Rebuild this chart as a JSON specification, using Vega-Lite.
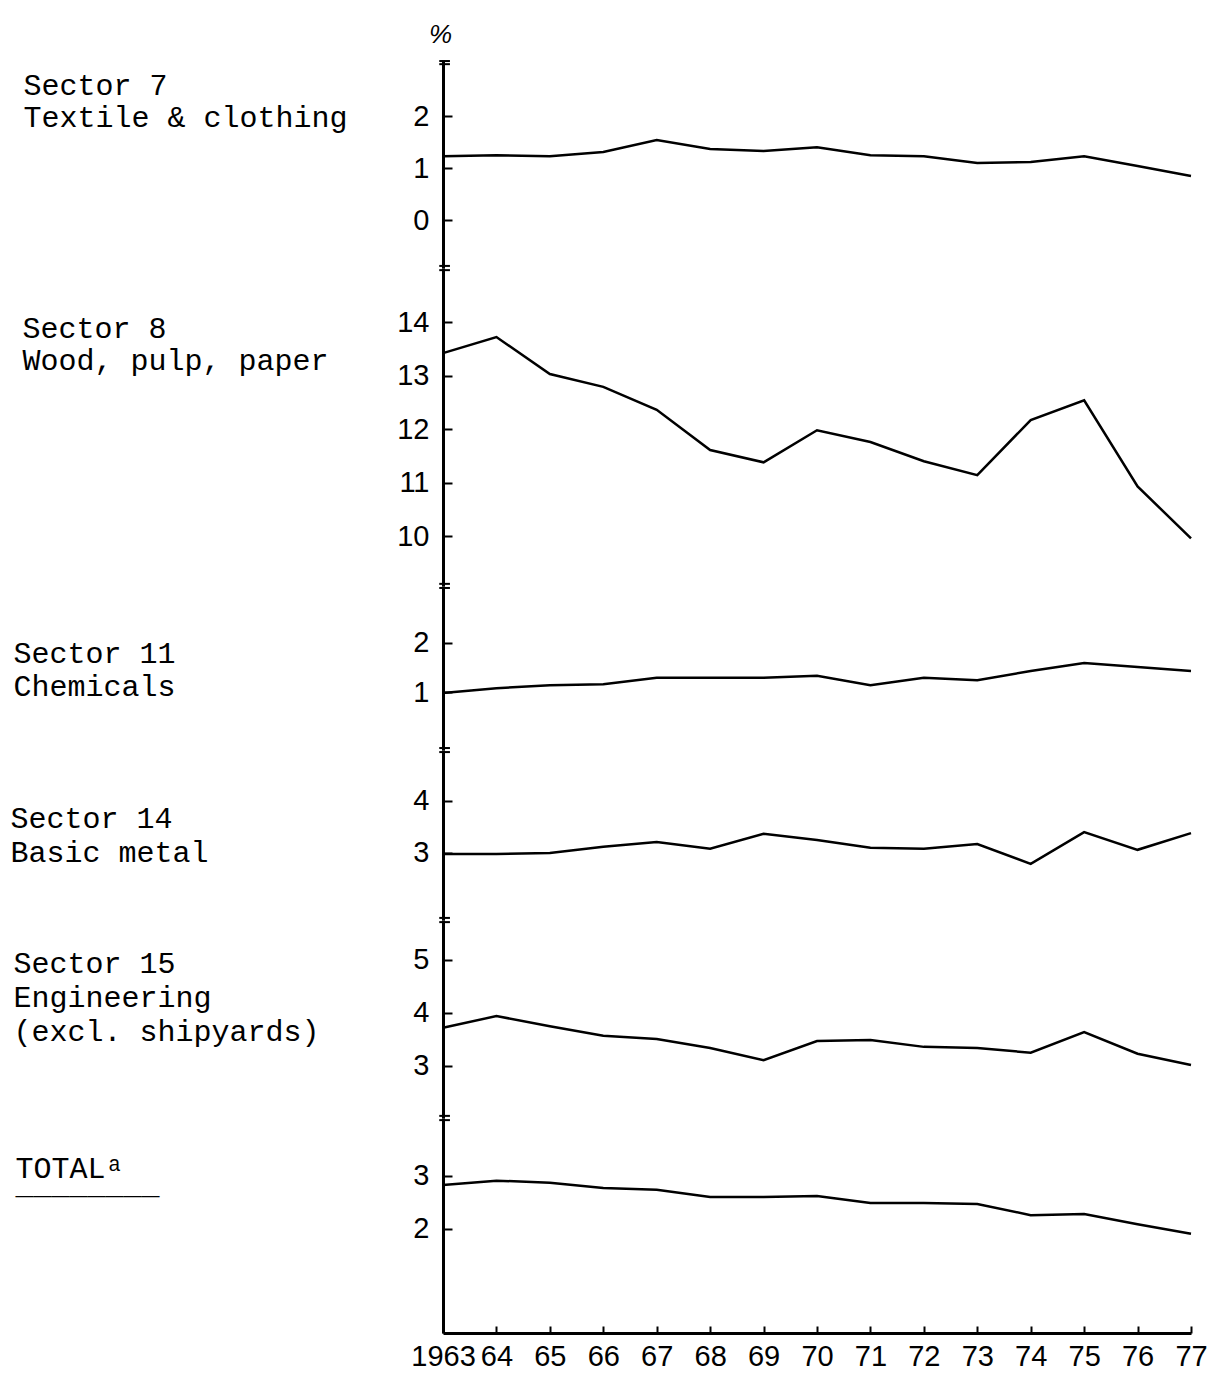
{
  "$schema": "https://vega.github.io/schema/vega-lite/v6.json",
  "background": "white",
  "padding": {"left": 10, "top": 22, "right": 10, "bottom": 10},
  "spacing": 0,
  "bounds": "flush",
  "datasets": {
    "s7": [{"year":1963,"value":1.23},{"year":1964,"value":1.25},{"year":1965,"value":1.23},{"year":1966,"value":1.31},{"year":1967,"value":1.54},{"year":1968,"value":1.37},{"year":1969,"value":1.33},{"year":1970,"value":1.40},{"year":1971,"value":1.25},{"year":1972,"value":1.23},{"year":1973,"value":1.10},{"year":1974,"value":1.12},{"year":1975,"value":1.23},{"year":1976,"value":1.04},{"year":1977,"value":0.85}],
    "s8": [{"year":1963,"value":13.42},{"year":1964,"value":13.72},{"year":1965,"value":13.03},{"year":1966,"value":12.79},{"year":1967,"value":12.36},{"year":1968,"value":11.61},{"year":1969,"value":11.38},{"year":1970,"value":11.98},{"year":1971,"value":11.76},{"year":1972,"value":11.40},{"year":1973,"value":11.14},{"year":1974,"value":12.17},{"year":1975,"value":12.54},{"year":1976,"value":10.93},{"year":1977,"value":9.96}],
    "s11": [{"year":1963,"value":0.98},{"year":1964,"value":1.08},{"year":1965,"value":1.14},{"year":1966,"value":1.16},{"year":1967,"value":1.29},{"year":1968,"value":1.29},{"year":1969,"value":1.29},{"year":1970,"value":1.33},{"year":1971,"value":1.14},{"year":1972,"value":1.29},{"year":1973,"value":1.24},{"year":1974,"value":1.43},{"year":1975,"value":1.59},{"year":1976,"value":1.51},{"year":1977,"value":1.43}],
    "s14": [{"year":1963,"value":2.98},{"year":1964,"value":2.98},{"year":1965,"value":3.0},{"year":1966,"value":3.12},{"year":1967,"value":3.21},{"year":1968,"value":3.08},{"year":1969,"value":3.37},{"year":1970,"value":3.25},{"year":1971,"value":3.10},{"year":1972,"value":3.08},{"year":1973,"value":3.17},{"year":1974,"value":2.79},{"year":1975,"value":3.40},{"year":1976,"value":3.06},{"year":1977,"value":3.38}],
    "s15": [{"year":1963,"value":3.72},{"year":1964,"value":3.94},{"year":1965,"value":3.75},{"year":1966,"value":3.57},{"year":1967,"value":3.51},{"year":1968,"value":3.34},{"year":1969,"value":3.11},{"year":1970,"value":3.47},{"year":1971,"value":3.49},{"year":1972,"value":3.36},{"year":1973,"value":3.34},{"year":1974,"value":3.25},{"year":1975,"value":3.64},{"year":1976,"value":3.23},{"year":1977,"value":3.02}],
    "tot": [{"year":1963,"value":2.83},{"year":1964,"value":2.91},{"year":1965,"value":2.87},{"year":1966,"value":2.77},{"year":1967,"value":2.74},{"year":1968,"value":2.60},{"year":1969,"value":2.60},{"year":1970,"value":2.62},{"year":1971,"value":2.49},{"year":1972,"value":2.49},{"year":1973,"value":2.47},{"year":1974,"value":2.26},{"year":1975,"value":2.28},{"year":1976,"value":2.09},{"year":1977,"value":1.91}],
    "one": [{}]
  },
  "vconcat": [
    {
      "width": 748, "height": 208,
      "title": {"text": "%", "anchor": "start", "frame": "group", "dx": -14, "offset": 12, "font": "Liberation Sans", "fontSize": 26, "fontStyle": "italic", "fontWeight": "normal", "color": "black"},
      "layer": [
        {
          "data": {"name": "s7"},
          "mark": {"type": "line", "color": "black", "strokeWidth": 2.5},
          "encoding": {
            "x": {"field": "year", "type": "quantitative", "scale": {"domain": [1963, 1977], "nice": false, "zero": false}, "axis": null},
            "y": {"field": "value", "type": "quantitative", "scale": {"domain": [-0.92, 3.08], "nice": false, "zero": false},
                  "axis": {"values": [0, 1, 2], "format": "d", "title": ["Sector 7", "Textile & clothing"], "titleX": -420, "titleY": 34, "titleLineHeight": 32}}
          }
        },
        {"data": {"name": "one"}, "mark": {"type": "rule", "color": "black", "strokeWidth": 2, "clip": false},
         "encoding": {"x": {"datum": 1962.93, "type": "quantitative", "axis": null}, "x2": {"datum": 1963.13}, "y": {"datum": 3.06, "type": "quantitative"}}},
        {"data": {"name": "one"}, "mark": {"type": "rule", "color": "black", "strokeWidth": 2, "clip": false},
         "encoding": {"x": {"datum": 1962.93, "type": "quantitative", "axis": null}, "x2": {"datum": 1963.13}, "y": {"datum": 3.0, "type": "quantitative"}}},
        {"data": {"name": "one"}, "mark": {"type": "rule", "color": "black", "strokeWidth": 2, "clip": false},
         "encoding": {"x": {"datum": 1962.93, "type": "quantitative", "axis": null}, "x2": {"datum": 1963.13}, "y": {"datum": -0.88, "type": "quantitative"}}}
      ]
    },
    {
      "width": 748, "height": 318,
      "layer": [
        {
          "data": {"name": "s8"},
          "mark": {"type": "line", "color": "black", "strokeWidth": 2.5},
          "encoding": {
            "x": {"field": "year", "type": "quantitative", "scale": {"domain": [1963, 1977], "nice": false, "zero": false}, "axis": null},
            "y": {"field": "value", "type": "quantitative", "scale": {"domain": [9.07, 15.01], "nice": false, "zero": false},
                  "axis": {"values": [10, 11, 12, 13, 14], "format": "d", "title": ["Sector 8", "Wood, pulp, paper"], "titleX": -421, "titleY": 69, "titleLineHeight": 32}}
          }
        },
        {"data": {"name": "one"}, "mark": {"type": "rule", "color": "black", "strokeWidth": 2, "clip": false},
         "encoding": {"x": {"datum": 1962.93, "type": "quantitative", "axis": null}, "x2": {"datum": 1963.13}, "y": {"datum": 14.97, "type": "quantitative"}}},
        {"data": {"name": "one"}, "mark": {"type": "rule", "color": "black", "strokeWidth": 2, "clip": false},
         "encoding": {"x": {"datum": 1962.93, "type": "quantitative", "axis": null}, "x2": {"datum": 1963.13}, "y": {"datum": 9.11, "type": "quantitative"}}}
      ]
    },
    {
      "width": 748, "height": 164,
      "layer": [
        {
          "data": {"name": "s11"},
          "mark": {"type": "line", "color": "black", "strokeWidth": 2.5},
          "encoding": {
            "x": {"field": "year", "type": "quantitative", "scale": {"domain": [1963, 1977], "nice": false, "zero": false}, "axis": null},
            "y": {"field": "value", "type": "quantitative", "scale": {"domain": [-0.18, 3.16], "nice": false, "zero": false},
                  "axis": {"values": [1, 2], "format": "d", "title": ["Sector 11", "Chemicals"], "titleX": -430, "titleY": 76, "titleLineHeight": 33}}
          }
        },
        {"data": {"name": "one"}, "mark": {"type": "rule", "color": "black", "strokeWidth": 2, "clip": false},
         "encoding": {"x": {"datum": 1962.93, "type": "quantitative", "axis": null}, "x2": {"datum": 1963.13}, "y": {"datum": 3.12, "type": "quantitative"}}},
        {"data": {"name": "one"}, "mark": {"type": "rule", "color": "black", "strokeWidth": 2, "clip": false},
         "encoding": {"x": {"datum": 1962.93, "type": "quantitative", "axis": null}, "x2": {"datum": 1963.13}, "y": {"datum": -0.14, "type": "quantitative"}}}
      ]
    },
    {
      "width": 748, "height": 170,
      "layer": [
        {
          "data": {"name": "s14"},
          "mark": {"type": "line", "color": "black", "strokeWidth": 2.5},
          "encoding": {
            "x": {"field": "year", "type": "quantitative", "scale": {"domain": [1963, 1977], "nice": false, "zero": false}, "axis": null},
            "y": {"field": "value", "type": "quantitative", "scale": {"domain": [1.71, 4.98], "nice": false, "zero": false},
                  "axis": {"values": [3, 4], "format": "d", "title": ["Sector 14", "Basic metal"], "titleX": -433, "titleY": 77, "titleLineHeight": 34}}
          }
        },
        {"data": {"name": "one"}, "mark": {"type": "rule", "color": "black", "strokeWidth": 2, "clip": false},
         "encoding": {"x": {"datum": 1962.93, "type": "quantitative", "axis": null}, "x2": {"datum": 1963.13}, "y": {"datum": 4.94, "type": "quantitative"}}},
        {"data": {"name": "one"}, "mark": {"type": "rule", "color": "black", "strokeWidth": 2, "clip": false},
         "encoding": {"x": {"datum": 1962.93, "type": "quantitative", "axis": null}, "x2": {"datum": 1963.13}, "y": {"datum": 1.75, "type": "quantitative"}}}
      ]
    },
    {
      "width": 748, "height": 198,
      "layer": [
        {
          "data": {"name": "s15"},
          "mark": {"type": "line", "color": "black", "strokeWidth": 2.5},
          "encoding": {
            "x": {"field": "year", "type": "quantitative", "scale": {"domain": [1963, 1977], "nice": false, "zero": false}, "axis": null},
            "y": {"field": "value", "type": "quantitative", "scale": {"domain": [2.02, 5.75], "nice": false, "zero": false},
                  "axis": {"values": [3, 4, 5], "format": "d", "title": ["Sector 15", "Engineering", "(excl. shipyards)"], "titleX": -430, "titleY": 52, "titleLineHeight": 34}}
          }
        },
        {"data": {"name": "one"}, "mark": {"type": "rule", "color": "black", "strokeWidth": 2, "clip": false},
         "encoding": {"x": {"datum": 1962.93, "type": "quantitative", "axis": null}, "x2": {"datum": 1963.13}, "y": {"datum": 5.71, "type": "quantitative"}}},
        {"data": {"name": "one"}, "mark": {"type": "rule", "color": "black", "strokeWidth": 2, "clip": false},
         "encoding": {"x": {"datum": 1962.93, "type": "quantitative", "axis": null}, "x2": {"datum": 1963.13}, "y": {"datum": 2.06, "type": "quantitative"}}}
      ]
    },
    {
      "width": 748, "height": 215,
      "layer": [
        {
          "data": {"name": "tot"},
          "mark": {"type": "line", "color": "black", "strokeWidth": 2.5},
          "encoding": {
            "x": {"field": "year", "type": "quantitative", "scale": {"domain": [1963, 1977], "nice": false, "zero": false},
                  "axis": {"values": [1963,1964,1965,1966,1967,1968,1969,1970,1971,1972,1973,1974,1975,1976,1977], "labelExpr": "datum.value == 1963 ? '1963' : substring(toString(datum.value), 2)", "title": null, "tickSize": -7, "labelPadding": 16, "labelFlush": false, "labelOverlap": false, "labelFontSize": 29}},
            "y": {"field": "value", "type": "quantitative", "scale": {"domain": [0.04, 4.09], "nice": false, "zero": false},
                  "axis": {"values": [2, 3], "format": "d", "title": ["TOTALᵃ", "‾‾‾‾‾‾‾‾"], "titleX": -428, "titleY": 59, "titleLineHeight": 40}}
          }
        },
        {"data": {"name": "one"}, "mark": {"type": "rule", "color": "black", "strokeWidth": 2, "clip": false},
         "encoding": {"x": {"datum": 1962.93, "type": "quantitative"}, "x2": {"datum": 1963.13}, "y": {"datum": 4.05, "type": "quantitative"}}}
      ]
    }
  ],
  "config": {
    "view": {"stroke": null},
    "axis": {
      "grid": false,
      "domainColor": "black", "domainWidth": 3,
      "tickColor": "black", "tickWidth": 2,
      "labelColor": "black", "labelFont": "Liberation Sans", "labelFontSize": 29,
      "titleColor": "black", "titleFont": "Liberation Mono", "titleFontSize": 30, "titleFontWeight": "normal"
    },
    "axisY": {
      "tickSize": -9, "labelPadding": 23,
      "titleAngle": 0, "titleAlign": "left", "titleBaseline": "alphabetic"
    }
  }
}
